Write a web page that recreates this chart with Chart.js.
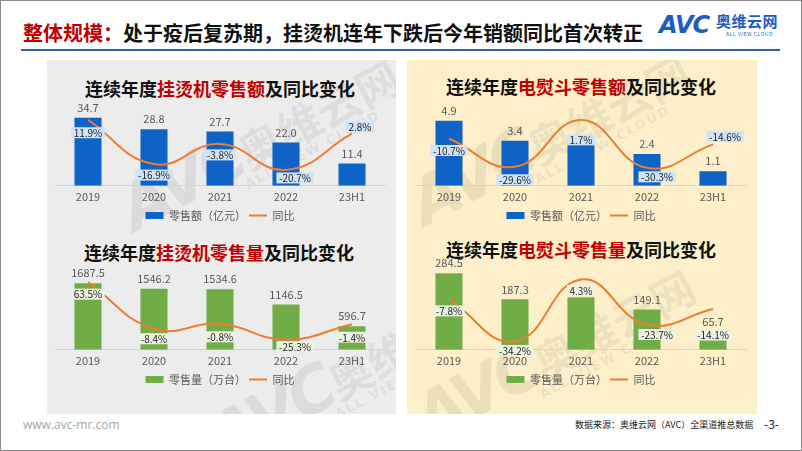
<!DOCTYPE html>
<html>
<head>
<meta charset="utf-8">
<script src="https://cdn.jsdelivr.net/npm/chart.js@4.4.0/dist/chart.umd.min.js"></script>
<style>
  body { margin: 0; width: 802px; height: 451px; overflow: hidden; background: #fff;
    font-family: "Noto Sans CJK SC", "Noto Sans", sans-serif; position: relative; }
  .frame { position: absolute; left: 0; top: 0; width: 802px; height: 451px;
    border: 1px solid #8a8a8a; box-sizing: border-box; }
  .head { position: absolute; left: 23px; top: 20px; font-size: 20px; line-height: 26px;
    font-weight: bold; color: #111; white-space: nowrap; }
  .head span { color: #c00000; }
  .rule { position: absolute; left: 21px; top: 49px; width: 759px; height: 2px; background: #2f5fa8; }
  .logo-avc { position: absolute; left: 659px; top: 11px; font: italic bold 24px "DejaVu Sans", sans-serif;
    color: #1d5cc0; letter-spacing: -1px; }
  .logo-cn { position: absolute; left: 716px; top: 12px; font-size: 15px; line-height: 18px;
    font-weight: bold; color: #1d5cc0; letter-spacing: 0.5px; }
  .logo-en { position: absolute; left: 726px; top: 31px; font-size: 5px; line-height: 6px;
    color: #1d5cc0; letter-spacing: 0.6px; }
  .panel { position: absolute; top: 60px; height: 354px; overflow: hidden; }
  .wm { position: absolute; white-space: nowrap; color: rgba(0, 0, 0, 0.07);
    transform: rotate(-28deg); transform-origin: left top; }
  .wm b { font: italic bold 64px "DejaVu Sans", sans-serif; letter-spacing: -4px; }
  .wm i { font-style: normal; font-weight: bold; font-size: 44px; }
  .wm small { position: absolute; left: 120px; top: 62px; font: bold 13px "DejaVu Sans", sans-serif; letter-spacing: 2px; }
  .ctitle { position: absolute; width: 360px; text-align: center; font-size: 18px;
    line-height: 22px; font-weight: bold; color: #111; }
  .ctitle span { color: #c00000; }
  .cbox { position: absolute; }
  .foot-l { position: absolute; left: 23px; top: 416px; font: 12px "Open Sans", sans-serif; color: #a6a6a6; }
  .foot-r { position: absolute; left: 575px; top: 418px; font-size: 9px; color: #222; white-space: nowrap; }
  .page { position: absolute; left: 764px; top: 415px; font-size: 12px; color: #222; }
</style>
</head>
<body>
<div class="frame"></div>
<div class="head"><span>整体规模：</span>处于疫后复苏期，挂烫机连年下跌后今年销额同比首次转正</div>
<div class="logo-avc">AVC</div>
<div class="logo-cn">奥维云网</div>
<div class="logo-en">ALL VIEW CLOUD</div>
<div class="rule"></div>

<div class="panel" style="left:47px;width:349px;background:#ececec">
  <div class="wm" style="left:60px;top:120px"><b>AVC</b><i>奥维云网</i><small>ALL VIEW CLOUD</small></div>
  <div class="wm" style="left:150px;top:350px"><b>AVC</b><i>奥维云网</i><small>ALL VIEW CLOUD</small></div>
</div>
<div class="panel" style="left:407px;width:350px;background:#fcefca">
  <div class="wm" style="left:-10px;top:115px"><b>AVC</b><i>奥维云网</i><small>ALL VIEW CLOUD</small></div>
  <div class="wm" style="left:-5px;top:330px"><b>AVC</b><i>奥维云网</i><small>ALL VIEW CLOUD</small></div>
</div>

<div class="ctitle" style="left:40px;top:77px">连续年度<span>挂烫机零售额</span>及同比变化</div>
<div class="ctitle" style="left:401px;top:75px">连续年度<span>电熨斗零售额</span>及同比变化</div>
<div class="ctitle" style="left:39px;top:241px">连续年度<span>挂烫机零售量</span>及同比变化</div>
<div class="ctitle" style="left:401px;top:238px">连续年度<span>电熨斗零售量</span>及同比变化</div>

<div class="cbox" style="left:47px;top:90px"><canvas id="c1" width="348" height="141"></canvas></div>
<div class="cbox" style="left:407px;top:90px"><canvas id="c2" width="350" height="141"></canvas></div>
<div class="cbox" style="left:47px;top:250px"><canvas id="c3" width="348" height="145"></canvas></div>
<div class="cbox" style="left:407px;top:250px"><canvas id="c4" width="350" height="145"></canvas></div>

<div class="foot-l">www.avc-mr.com</div>
<div class="foot-r">数据来源：奥维云网（AVC）全渠道推总数据</div>
<div class="page">-3-</div>

<script>
// categories
const years = ['2019', '2020', '2021', '2022', '23H1'];

// 挂烫机零售额（亿元）and yoy %
const steamerSales = [34.7, 28.8, 27.7, 22.0, 11.4];
const steamerSalesYoY = [11.9, -16.9, -3.8, -20.7, 2.8];

// 电熨斗零售额（亿元）and yoy %
const ironSales = [4.9, 3.4, 3.4, 2.4, 1.1];
const ironSalesYoY = [-10.7, -29.6, 1.7, -30.3, -14.6];

// 挂烫机零售量（万台）and yoy %
const steamerVolume = [1687.5, 1546.2, 1534.6, 1146.5, 596.7];
const steamerVolumeYoY = [63.5, -8.4, -0.8, -25.3, -1.4];

// 电熨斗零售量（万台）and yoy %
const ironVolume = [284.5, 187.3, 195.3, 149.1, 65.7];
const ironVolumeYoY = [-7.8, -34.2, 4.3, -23.7, -14.1];

const BLUE = '#0f62c6';
const GREEN = '#70ad47';
const ORANGE = '#ed7d31';
const FONT = '"Noto Sans CJK SC", "Noto Sans", sans-serif';

// value labels: bar totals above the bars, yoy tags in small boxes near the line
const tagPlugin = {
    id: 'tags',
    afterDatasetsDraw: function (chart, args, o) {
        const ctx = chart.ctx;
        const bars = chart.getDatasetMeta(0).data;
        const pts = chart.getDatasetMeta(1).data;
        ctx.save();
        ctx.textAlign = 'center';
        ctx.textBaseline = 'middle';
        ctx.font = '11px ' + FONT;
        ctx.fillStyle = '#595959';
        bars.forEach(function (el, i) {
            if (o.skip.indexOf(i) >= 0) return;
            ctx.fillText(chart.data.datasets[0].data[i].toFixed(1), el.x, el.y - 10);
        });
        ctx.font = '10px ' + FONT;
        pts.forEach(function (p, i) {
            const txt = chart.data.datasets[1].data[i].toFixed(1) + '%';
            const x = p.x + o.shift[i][0], y = p.y + o.shift[i][1];
            const w = ctx.measureText(txt).width + 5, h = 11;
            ctx.fillStyle = o.fill;
            ctx.fillRect(x - w / 2, y - h / 2, w, h);
            ctx.fillStyle = '#262626';
            ctx.fillText(txt, x, y + 0.5);
        });
        ctx.restore();
    }
};

function makeChart(id, spec) {
    return new Chart(document.getElementById(id), {
        type: 'bar',
        data: {
            labels: years,
            datasets: [{
                type: 'bar',
                label: spec.name,
                data: spec.bars,
                backgroundColor: spec.color,
                categoryPercentage: 1,
                barPercentage: 0.41,
                yAxisID: 'y',
                order: 1,
                pointStyle: 'rect'
            }, {
                type: 'line',
                label: '同比',
                data: spec.yoy,
                borderColor: ORANGE,
                backgroundColor: ORANGE,
                borderWidth: 2,
                pointRadius: 0,
                tension: 0.45,
                clip: false,
                yAxisID: 'y1',
                order: 0,
                pointStyle: 'line'
            }]
        },
        options: {
            responsive: false,
            animation: false,
            devicePixelRatio: 1,
            layout: { padding: { left: spec.padL, right: spec.padR, top: spec.padT, bottom: 0 } },
            scales: {
                x: {
                    grid: { display: false, drawTicks: false },
                    border: { display: true, color: '#d4d4d4', width: 1 },
                    ticks: { color: '#595959', padding: 4, font: { size: 11, family: FONT } }
                },
                y: { display: false, min: 0, max: spec.barMax },
                y1: { display: false, min: spec.lineMin, max: spec.lineMax }
            },
            plugins: {
                legend: {
                    position: 'bottom',
                    labels: {
                        usePointStyle: true,
                        pointStyleWidth: 18,
                        boxHeight: 7,
                        padding: 3,
                        color: '#595959',
                        font: { size: 11, family: FONT },
                        sort: function (a, b) { return a.datasetIndex - b.datasetIndex; }
                    }
                },
                tooltip: { enabled: false },
                tags: { shift: spec.shift, fill: spec.tagFill, skip: spec.skip }
            }
        },
        plugins: [tagPlugin]
    });
}

makeChart('c1', {
    name: '零售额（亿元）', bars: steamerSales, yoy: steamerSalesYoY, color: BLUE,
    tagFill: '#cfe2f6', barMax: 43.7, lineMin: -31.0, lineMax: 24.7, padL: 8, padR: 10, padT: 10,
    shift: [[0, 13], [0, 11], [0, 11], [9, 8], [8, -7]], skip: []
});
makeChart('c2', {
    name: '零售额（亿元）', bars: ironSales, yoy: ironSalesYoY, color: BLUE,
    tagFill: '#cfe2f6', barMax: 6.47, lineMin: -42.3, lineMax: 15.0, padL: 9, padR: 11, padT: 10,
    shift: [[0, 12], [0, 13], [0, 20], [10, 9], [12, -8]], skip: [2]
});
makeChart('c3', {
    name: '零售量（万台）', bars: steamerVolume, yoy: steamerVolumeYoY, color: GREEN,
    tagFill: '#eaf3e2', barMax: 2225, lineMin: -40.9, lineMax: 94.6, padL: 8, padR: 10, padT: 12,
    shift: [[0, 12], [0, 10], [0, 13], [9, 7], [0, 13]], skip: []
});
makeChart('c4', {
    name: '零售量（万台）', bars: ironVolume, yoy: ironVolumeYoY, color: GREEN,
    tagFill: '#eaf3e2', barMax: 325.8, lineMin: -39.4, lineMax: 15.1, padL: 9, padR: 11, padT: 12,
    shift: [[0, 12], [0, 9], [0, 11], [10, 10], [0, 26]], skip: [2]
});
</script>
</body>
</html>
